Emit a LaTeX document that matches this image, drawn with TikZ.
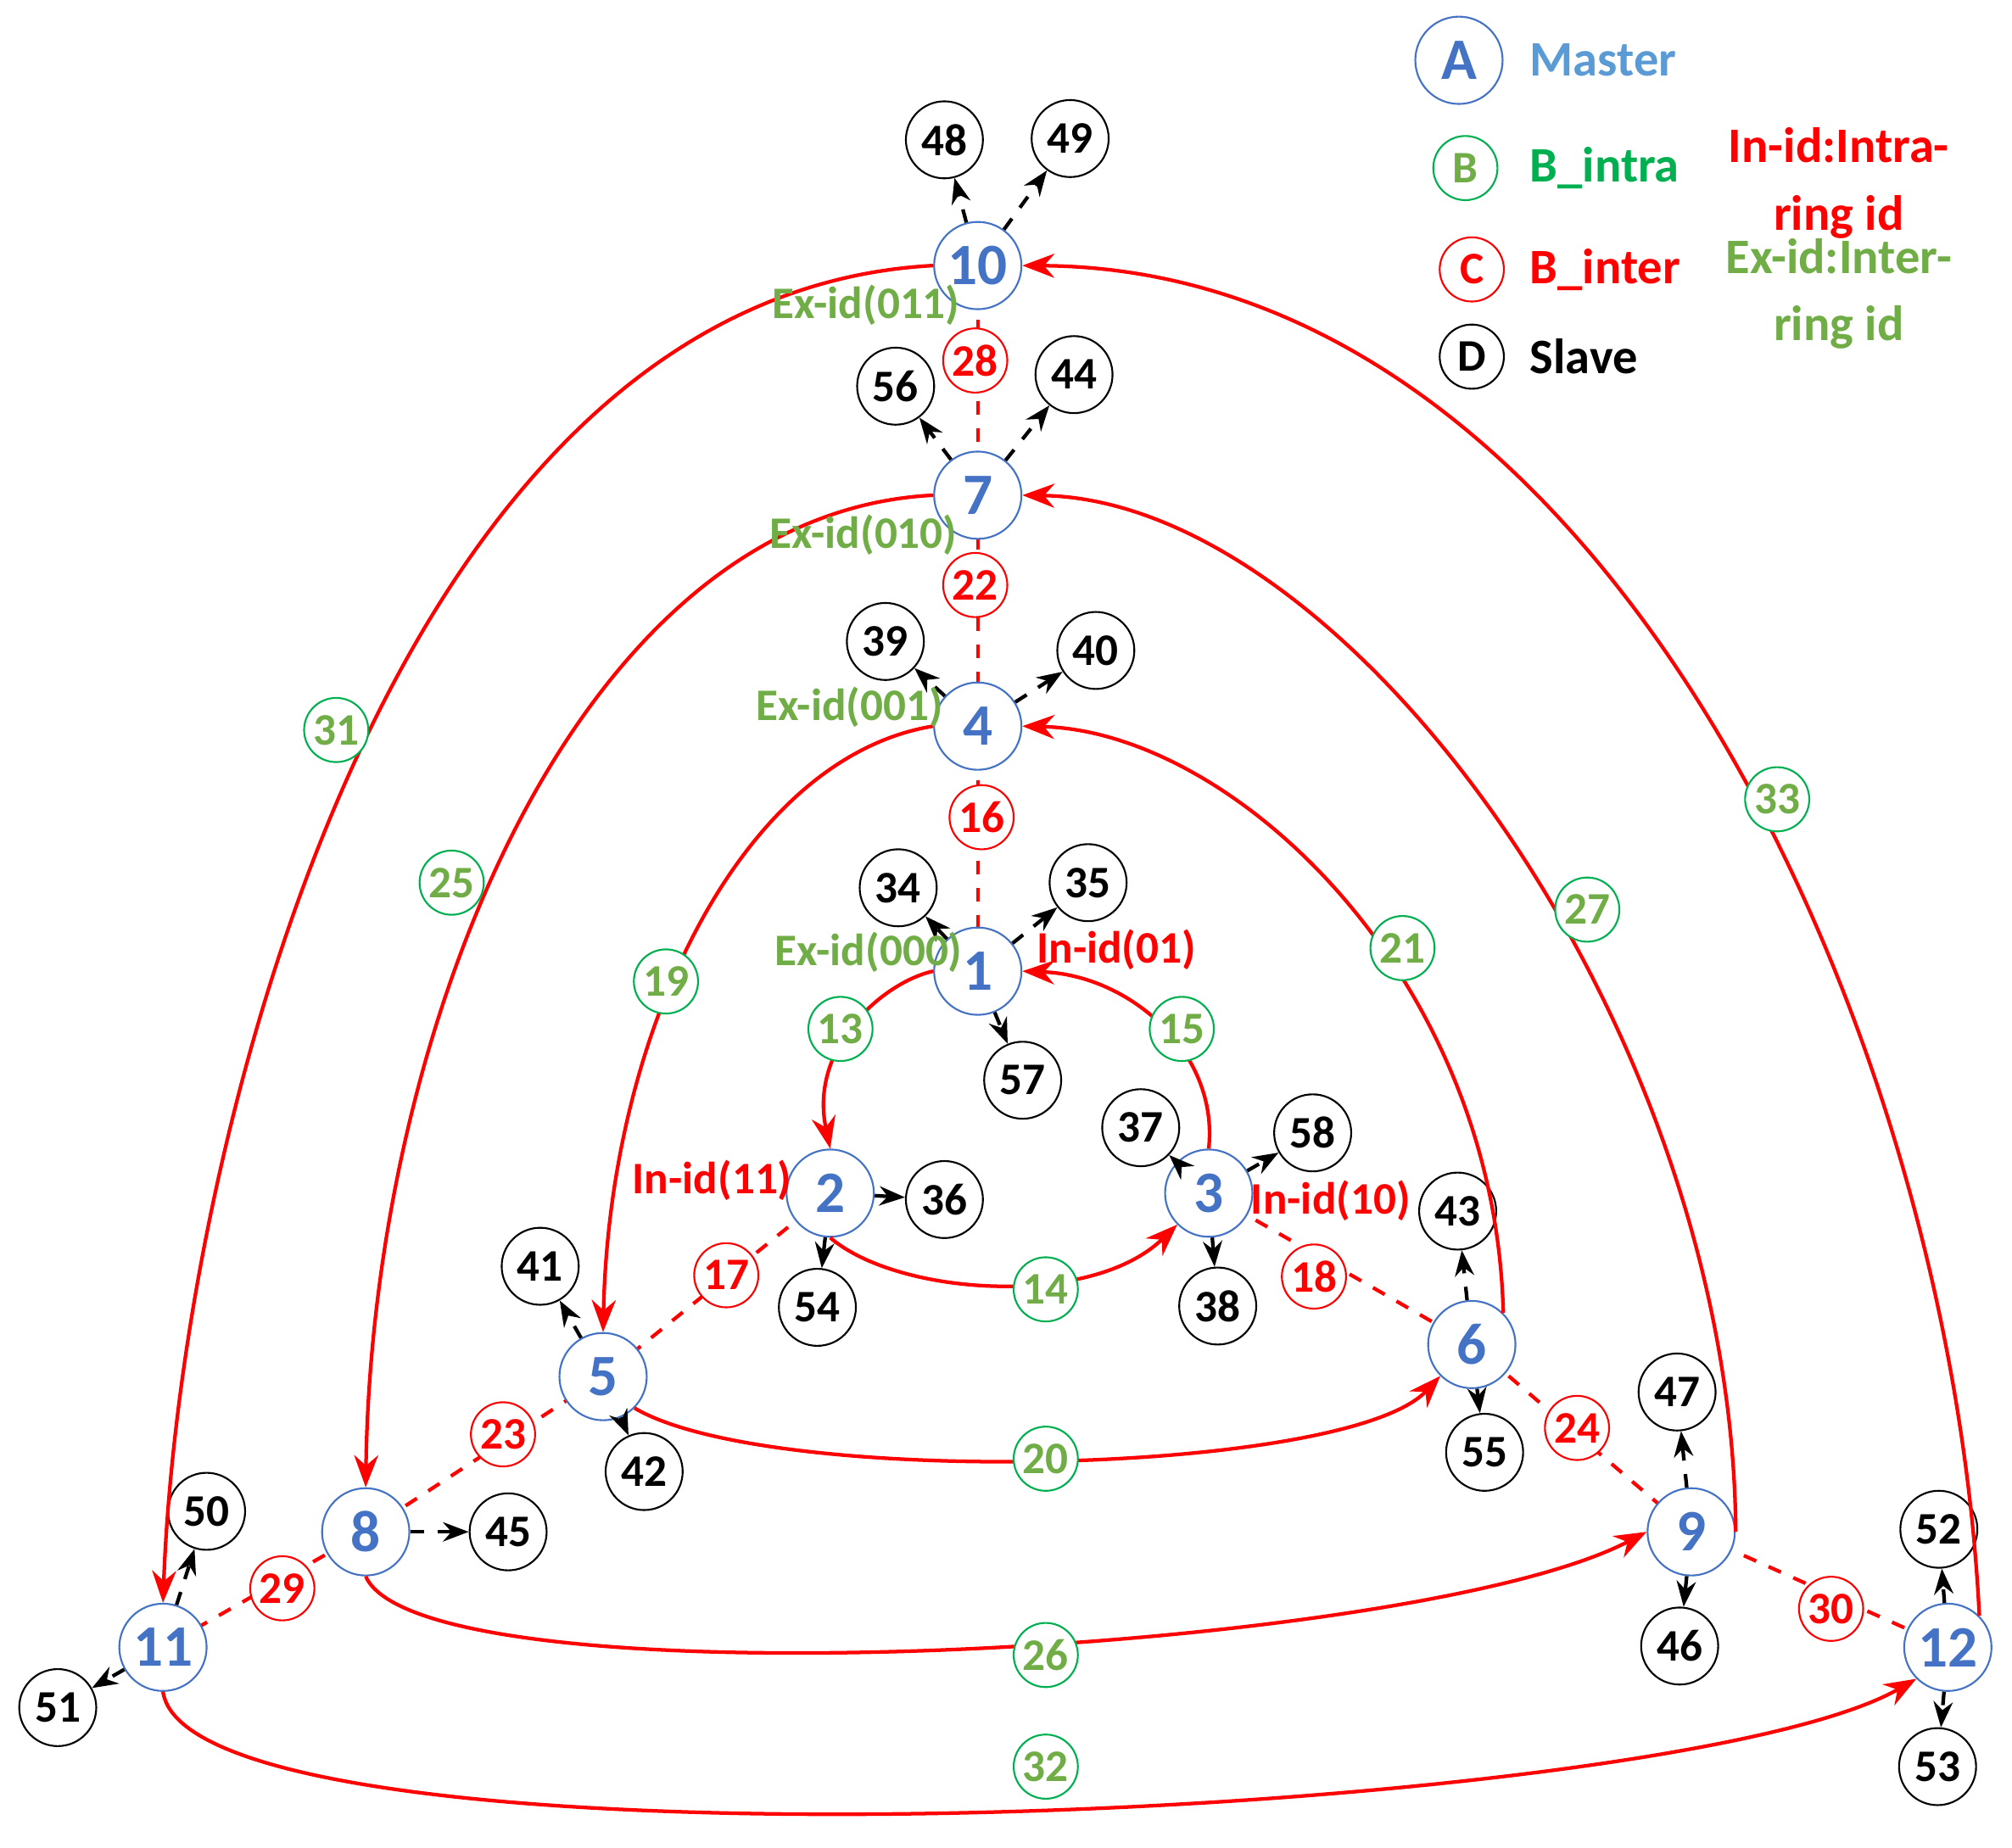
\documentclass[tikz,border=0pt]{standalone}
\usepackage{fontspec}
\setmainfont{Carlito}
\usetikzlibrary{arrows.meta}
\definecolor{mblue}{HTML}{4472C4}
\definecolor{lblue}{HTML}{5B9BD5}
\definecolor{igreen}{HTML}{00B050}
\definecolor{tgreen}{HTML}{70AD47}
\begin{document}
\begin{tikzpicture}[x=0.01cm,y=-0.01cm,font=\bfseries]
	\tikzstyle {master} = [circle, draw=mblue, fill=white, minimum size=0.68cm, inner sep=0pt, text=mblue, font=\bfseries\fontsize{13}{13}\selectfont]
	\tikzstyle {slave} = [circle, draw=black, fill=white, minimum size=0.6cm, inner sep=0pt, font=\bfseries\fontsize{10}{10}\selectfont]
	\tikzstyle {intra} = [circle, draw=igreen, fill=white, minimum size=0.5cm, inner sep=0pt, text=tgreen, font=\bfseries\fontsize{10}{10}\selectfont]
	\tikzstyle {inter} = [circle, draw=red, fill=white, minimum size=0.5cm, inner sep=0pt, text=red, font=\bfseries\fontsize{10}{10}\selectfont]
	\tikzstyle {ring} = [red, thick, -{Stealth[length=2.5mm]}]
	\tikzstyle {link} = [red, thick, dashed]
	\tikzstyle {slave arrow} = [thick, dashed, -{Stealth[length=2mm]}]
	\tikzstyle {exlabel} = [text=tgreen, font=\bfseries\fontsize{10}{10}\selectfont]
	\tikzstyle {inlabel} = [text=red, font=\bfseries\fontsize{10}{10}\selectfont]
	\tikzstyle {legend} = [anchor=west, font=\bfseries\fontsize{11}{11}\selectfont]

	\useasboundingbox (0,0) rectangle (1568,1440);

	% dashed ring links
	\coordinate (v10) at (762,207);
	\coordinate (v1) at (762,757);
	\draw[link] (v10) -- (v1);
	\draw[link] (647,930) -- (470,1073) -- (285,1194) -- (127,1284);
	\draw[link] (942,930) -- (1147,1048) -- (1318,1194) -- (1518,1284);

	% masters
	\node[master] (1) at (762,757) {1};
	\node[master] (2) at (647,930) {2};
	\node[master] (3) at (942,930) {3};
	\node[master] (4) at (762,566) {4};
	\node[master] (5) at (470,1073) {5};
	\node[master] (6) at (1147,1048) {6};
	\node[master] (7) at (762,386) {7};
	\node[master] (8) at (285,1194) {8};
	\node[master] (9) at (1318,1194) {9};
	\node[master] (10) at (762,207) {10};
	\node[master] (11) at (127,1284) {11};
	\node[master] (12) at (1518,1284) {12};

	% slaves
	\node[slave] (48) at (736,109) {48};
	\node[slave] (49) at (834,108) {49};
	\node[slave] (56) at (698,301) {56};
	\node[slave] (44) at (837,292) {44};
	\node[slave] (39) at (690,500) {39};
	\node[slave] (40) at (854,507) {40};
	\node[slave] (34) at (700,692) {34};
	\node[slave] (35) at (848,688) {35};
	\node[slave] (57) at (797,842) {57};
	\node[slave] (37) at (889,879) {37};
	\node[slave] (58) at (1023,883) {58};
	\node[slave] (36) at (736,935) {36};
	\node[slave] (54) at (637,1019) {54};
	\node[slave] (38) at (949,1018) {38};
	\node[slave] (43) at (1136,944) {43};
	\node[slave] (55) at (1157,1132) {55};
	\node[slave] (41) at (421,987) {41};
	\node[slave] (42) at (502,1147) {42};
	\node[slave] (45) at (396,1194) {45};
	\node[slave] (47) at (1307,1085) {47};
	\node[slave] (46) at (1309,1283) {46};
	\node[slave] (50) at (161,1178) {50};
	\node[slave] (51) at (45,1331) {51};
	\node[slave] (52) at (1511,1192) {52};
	\node[slave] (53) at (1510,1377) {53};

	\foreach \m/\s in {10/48,10/49,7/56,7/44,4/39,4/40,1/34,1/35,1/57,3/37,3/58,2/36,2/54,3/38,6/43,6/55,5/41,5/42,8/45,9/47,9/46,11/50,11/51,12/52,12/53}
		\draw[slave arrow] (\m) -- (\s);

	% ring arrows
	\draw[ring] (1.west) .. controls (690,765) and (630,815) .. (2.north);
	\draw[ring] (3.north) .. controls (950,820) and (880,760) .. (1.east);
	\draw[ring] (2.south) .. controls (700,1010) and (850,1020) .. (3.south west);
	\draw[ring] (4.west) .. controls (580,590) and (475,800) .. (5.north);
	\draw[ring] (6.north east) .. controls (1165,760) and (960,570) .. (4.east);
	\draw[ring] (5.south east) .. controls (600,1160) and (1050,1150) .. (6.south west);
	\draw[ring] (7.west) .. controls (450,400) and (290,800) .. (8.north);
	\draw[ring] (9.east) .. controls (1350,800) and (1050,390) .. (7.east);
	\draw[ring] (8.south) .. controls (330,1330) and (1100,1290) .. (9.west);
	\draw[ring] (10.west) .. controls (300,230) and (140,900) .. (11.north);
	\draw[ring] (12.north east) .. controls (1520,800) and (1250,210) .. (10.east);
	\draw[ring] (11.south) .. controls (150,1470) and (1300,1420) .. (12.south west);

	% intra labels
	\node[intra] (13) at (655,802) {13};
	\node[intra] (15) at (921,802) {15};
	\node[intra] (14) at (815,1005) {14};
	\node[intra] (19) at (519,765) {19};
	\node[intra] (21) at (1093,739) {21};
	\node[intra] (20) at (815,1137) {20};
	\node[intra] (25) at (352,688) {25};
	\node[intra] (27) at (1237,709) {27};
	\node[intra] (26) at (815,1290) {26};
	\node[intra] (31) at (262,569) {31};
	\node[intra] (33) at (1385,623) {33};
	\node[intra] (32) at (815,1377) {32};

	% inter labels
	\node[inter] (28) at (760,281) {28};
	\node[inter] (22) at (760,456) {22};
	\node[inter] (16) at (765,637) {16};
	\node[inter] (17) at (566,994) {17};
	\node[inter] (18) at (1024,995) {18};
	\node[inter] (23) at (392,1118) {23};
	\node[inter] (24) at (1229,1113) {24};
	\node[inter] (29) at (220,1238) {29};
	\node[inter] (30) at (1427,1254) {30};

	% id texts
	\node[exlabel] (ex10) at (675,238) {Ex-id(011)};
	\node[exlabel] (ex7) at (673,417) {Ex-id(010)};
	\node[exlabel] (ex4) at (662,551) {Ex-id(001)};
	\node[exlabel] (ex1) at (677,742) {Ex-id(000)};
	\node[inlabel] (in1) at (870,740) {In-id(01)};
	\node[inlabel] (in2) at (555,920) {In-id(11)};
	\node[inlabel] (in3) at (1037,936) {In-id(10)};

	% legend
	\node[master] (la) at (1137,47) {A};
	\node[intra] (lb) at (1142,131) {B};
	\node[inter] (lc) at (1147,210) {C};
	\node[slave, minimum size=0.5cm] (ld) at (1147,278) {D};
	\node[legend, text=lblue] (ta) at (1180,47) {Master};
	\node[legend, text=igreen] (tb) at (1180,131) {B\_intra};
	\node[legend, text=red] (tc) at (1180,210) {B\_inter};
	\node[legend] (td) at (1180,278) {Slave};
	\node[inlabel, align=center, font=\bfseries\fontsize{11}{15}\selectfont] (tin) at (1433,143) {In-id:Intra-\\ring id};
	\node[exlabel, align=center, font=\bfseries\fontsize{11}{15}\selectfont] (tex) at (1433,229) {Ex-id:Inter-\\ring id};
\end{tikzpicture}
\end{document}
